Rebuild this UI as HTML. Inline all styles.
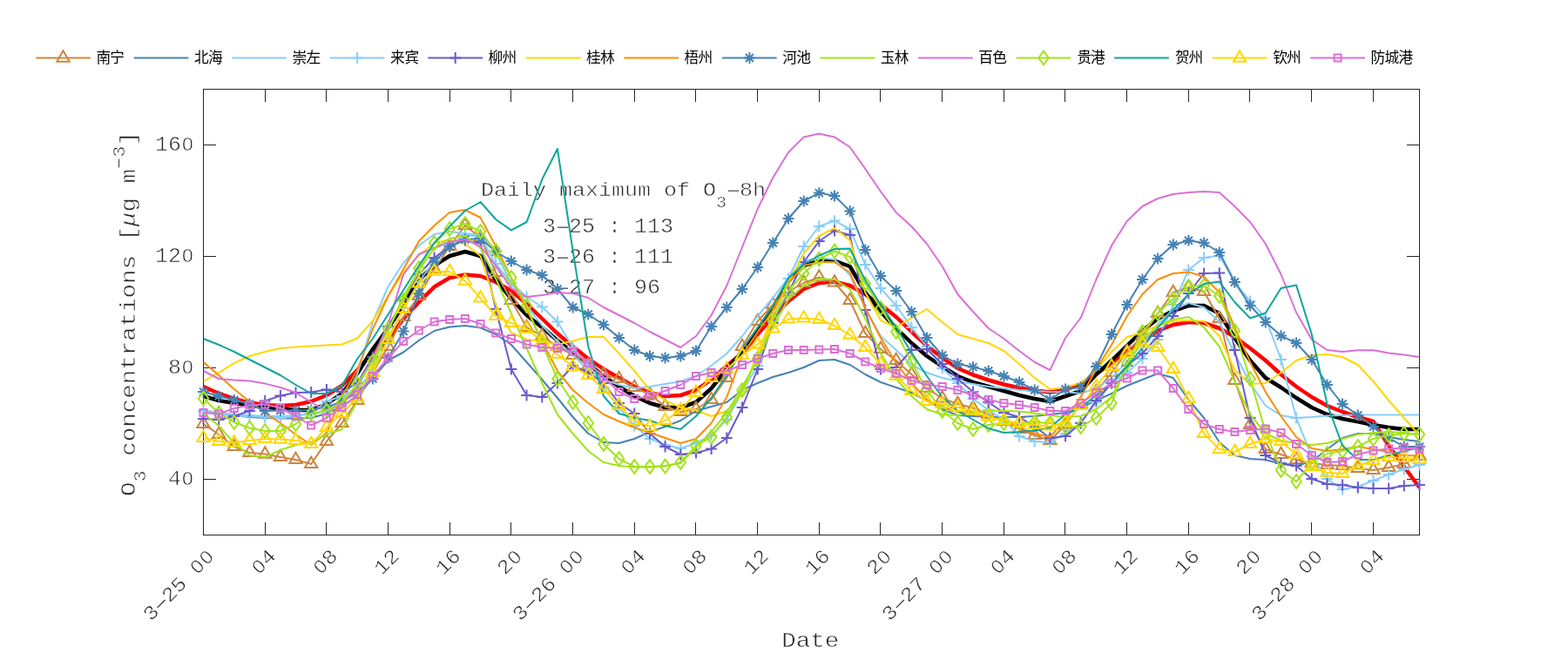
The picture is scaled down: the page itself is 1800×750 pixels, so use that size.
<!DOCTYPE html>
<html lang="zh"><head><meta charset="utf-8"><title>O3 concentrations</title>
<style>html,body{margin:0;padding:0;background:#fff}body{width:1800px;height:750px;overflow:hidden}svg{display:block;will-change:transform}text{font-family:'Liberation Mono', monospace;fill:#262626;stroke:#fff;stroke-width:0.6px}.z{font-family:'Liberation Sans',sans-serif}text.lg{font-family:'Liberation Sans','Noto Sans CJK SC',sans-serif;fill:#000;stroke:none;font-size:16.7px}</style></head><body>
<svg width="1800" height="750" viewBox="0 0 1800 750">
<rect width="1800" height="750" fill="#fff"/>
<defs><clipPath id="plot"><rect x="233.5" y="102.5" width="1396" height="512"/></clipPath></defs>
<g stroke="#262626" stroke-width="1" fill="none" shape-rendering="crispEdges">
<rect x="233.5" y="102.5" width="1396" height="512"/>
<path d="M304.5 614.5v-14.5M304.5 102.5v14.5M374.5 614.5v-14.5M374.5 102.5v14.5M445.5 614.5v-14.5M445.5 102.5v14.5M516.5 614.5v-14.5M516.5 102.5v14.5M586.5 614.5v-14.5M586.5 102.5v14.5M657.5 614.5v-14.5M657.5 102.5v14.5M728.5 614.5v-14.5M728.5 102.5v14.5M798.5 614.5v-14.5M798.5 102.5v14.5M869.5 614.5v-14.5M869.5 102.5v14.5M940.5 614.5v-14.5M940.5 102.5v14.5M1010.5 614.5v-14.5M1010.5 102.5v14.5M1081.5 614.5v-14.5M1081.5 102.5v14.5M1152.5 614.5v-14.5M1152.5 102.5v14.5M1222.5 614.5v-14.5M1222.5 102.5v14.5M1293.5 614.5v-14.5M1293.5 102.5v14.5M1364.5 614.5v-14.5M1364.5 102.5v14.5M1434.5 614.5v-14.5M1434.5 102.5v14.5M1505.5 614.5v-14.5M1505.5 102.5v14.5M1576.5 614.5v-14.5M1576.5 102.5v14.5M233.5 550.5h14.5M1629.5 550.5h-14.5M233.5 422.5h14.5M1629.5 422.5h-14.5M233.5 294.5h14.5M1629.5 294.5h-14.5M233.5 166.5h14.5M1629.5 166.5h-14.5"/>
</g>
<text transform="translate(552,224.5) scale(1,0.890)" font-size="25">Daily maximum of O<tspan font-size="20" dy="14.6">3</tspan><tspan dy="-14.6" x="275" textLength="30" lengthAdjust="spacingAndGlyphs">-</tspan><tspan x="297">8h</tspan></text>
<text transform="translate(623,266.5) scale(1,0.930)" font-size="25"><tspan x="0">3</tspan><tspan x="8" textLength="30" lengthAdjust="spacingAndGlyphs">-</tspan><tspan x="30">2</tspan><tspan x="45">5</tspan> <tspan x="75">:</tspan> <tspan x="105">1</tspan><tspan x="120">1</tspan><tspan x="135">3</tspan></text>
<text transform="translate(623,301.5) scale(1,0.930)" font-size="25"><tspan x="0">3</tspan><tspan x="8" textLength="30" lengthAdjust="spacingAndGlyphs">-</tspan><tspan x="30">2</tspan><tspan x="45">6</tspan> <tspan x="75">:</tspan> <tspan x="105">1</tspan><tspan x="120">1</tspan><tspan x="135">1</tspan></text>
<text transform="translate(623,336.5) scale(1,0.930)" font-size="25"><tspan x="0">3</tspan><tspan x="8" textLength="30" lengthAdjust="spacingAndGlyphs">-</tspan><tspan x="30">2</tspan><tspan x="45">7</tspan> <tspan x="75">:</tspan> <tspan x="105">9</tspan><tspan x="120">6</tspan></text>
<g fill="none" stroke-linejoin="round" stroke-linecap="butt" clip-path="url(#plot)">
<path d="M233.5 444L251.2 452L268.8 458L286.5 462.6L304.2 465L321.9 466L339.5 465L357.2 461L374.9 454L392.5 443L410.2 425L427.9 405L445.6 390L463.2 366L480.9 347L498.6 329.5L516.2 319L533.9 315.5L551.6 317L569.2 324L586.9 334L604.6 349L622.3 366L639.9 383L657.6 398L675.3 412L692.9 424L710.6 434L728.3 444L746 451L763.6 455L781.3 454L799 448L816.6 436L834.3 420L852 406L869.7 384L887.3 364L905 346L922.7 332L940.3 325L958 323.6L975.7 328L993.3 338L1011 350L1028.7 364L1046.4 381L1064 397L1081.7 411L1099.4 423L1117 430.5L1134.7 436.5L1152.4 441.5L1170.1 445.5L1187.7 448.5L1205.4 450.5L1223.1 448L1240.7 441L1258.4 429.5L1276.1 417L1293.8 403.5L1311.4 391L1329.1 380L1346.8 373L1364.4 370L1382.1 371L1399.8 377L1417.4 387L1435.1 400L1452.8 414L1470.5 430L1488.1 444L1505.8 456L1523.5 466L1541.1 473L1558.8 479L1576.5 484L1594.2 512L1611.8 536L1629.5 560" stroke="#FF0000" stroke-width="4.5"/>
<path d="M233.5 455L251.2 460L268.8 463L286.5 465.4L304.2 467.4L321.9 469.4L339.5 471L357.2 471L374.9 464L392.5 452L410.2 429L427.9 401L445.6 377L463.2 350L480.9 321L498.6 305L516.2 294L533.9 289L551.6 294L569.2 321L586.9 343L604.6 362L622.3 376L639.9 391L657.6 405L675.3 418L692.9 432L710.6 444L728.3 455L746 463L763.6 468L781.3 468L799 462L816.6 446L834.3 424L852 404L869.7 379L887.3 353.5L905 323L922.7 305L940.3 299.6L958 299.6L975.7 306L993.3 336L1011 358L1028.7 377L1046.4 394L1064 409L1081.7 421L1099.4 432L1117 439L1134.7 444L1152.4 449L1170.1 454L1187.7 458L1205.4 461L1223.1 455L1240.7 449L1258.4 430L1276.1 414L1293.8 397L1311.4 380L1329.1 366L1346.8 357L1364.4 351L1382.1 351L1399.8 360L1417.4 388L1435.1 414L1452.8 434L1470.5 445L1488.1 457L1505.8 468L1523.5 476L1541.1 481L1558.8 484.4L1576.5 488L1594.2 491L1611.8 493L1629.5 493" stroke="#000000" stroke-width="4.5"/>
</g>
<g fill="none" stroke="#CD853F" stroke-width="2" stroke-linejoin="round">
<path d="M233.5 487L251.2 499L268.8 513L286.5 520L304.2 521.6L321.9 525L339.5 528L357.2 533L374.9 507L392.5 486L410.2 460L427.9 428L445.6 398L463.2 364L480.9 340L498.6 309L516.2 283L533.9 259L551.6 273L569.2 313L586.9 345L604.6 376L622.3 386L639.9 398L657.6 408L675.3 420L692.9 430L710.6 435L728.3 445L746 453L763.6 467L781.3 473L799 470L816.6 459L834.3 434L852 398L869.7 369L887.3 350L905 335L922.7 325L940.3 318.5L958 324.5L975.7 345L993.3 383L1011 401L1028.7 414L1046.4 430L1064 446L1081.7 457.5L1099.4 464L1117 468.5L1134.7 476L1152.4 484L1170.1 493L1187.7 500L1205.4 506L1223.1 488L1240.7 464L1258.4 450L1276.1 428L1293.8 404L1311.4 386L1329.1 360L1346.8 336L1364.4 330L1382.1 335L1399.8 366L1417.4 437L1435.1 488L1452.8 516L1470.5 522L1488.1 528L1505.8 532L1523.5 534L1541.1 535L1558.8 538L1576.5 540L1594.2 537L1611.8 533L1629.5 524" clip-path="url(#plot)"/>
<path stroke-linejoin="miter" d="M233.5 478.7L240.7 491.1L226.3 491.1ZM251.2 490.7L258.4 503.1L244 503.1ZM268.8 504.7L276 517.1L261.6 517.1ZM286.5 511.7L293.7 524.1L279.3 524.1ZM304.2 513.3L311.4 525.8L297 525.8ZM321.9 516.7L329.1 529.1L314.7 529.1ZM339.5 519.7L346.7 532.1L332.3 532.1ZM357.2 524.7L364.4 537.1L350 537.1ZM374.9 498.7L382.1 511.1L367.7 511.1ZM392.5 477.7L399.7 490.1L385.3 490.1ZM410.2 451.7L417.4 464.1L403 464.1ZM427.9 419.7L435.1 432.1L420.7 432.1ZM445.6 389.7L452.8 402.1L438.4 402.1ZM463.2 355.7L470.4 368.1L456 368.1ZM480.9 331.7L488.1 344.1L473.7 344.1ZM498.6 300.7L505.8 313.1L491.4 313.1ZM516.2 274.7L523.4 287.1L509 287.1ZM533.9 250.7L541.1 263.1L526.7 263.1ZM551.6 264.7L558.8 277.1L544.4 277.1ZM569.2 304.7L576.4 317.1L562 317.1ZM586.9 336.7L594.1 349.1L579.7 349.1ZM604.6 367.7L611.8 380.1L597.4 380.1ZM622.3 377.7L629.5 390.1L615.1 390.1ZM639.9 389.7L647.1 402.1L632.7 402.1ZM657.6 399.7L664.8 412.1L650.4 412.1ZM675.3 411.7L682.5 424.1L668.1 424.1ZM692.9 421.7L700.1 434.1L685.7 434.1ZM710.6 426.7L717.8 439.1L703.4 439.1ZM728.3 436.7L735.5 449.1L721.1 449.1ZM746 444.7L753.2 457.1L738.8 457.1ZM763.6 458.7L770.8 471.1L756.4 471.1ZM781.3 464.7L788.5 477.1L774.1 477.1ZM799 461.7L806.2 474.1L791.8 474.1ZM816.6 450.7L823.8 463.1L809.4 463.1ZM834.3 425.7L841.5 438.1L827.1 438.1ZM852 389.7L859.2 402.1L844.8 402.1ZM869.7 360.7L876.9 373.1L862.5 373.1ZM887.3 341.7L894.5 354.1L880.1 354.1ZM905 326.7L912.2 339.1L897.8 339.1ZM922.7 316.7L929.9 329.1L915.5 329.1ZM940.3 310.2L947.5 322.6L933.1 322.6ZM958 316.2L965.2 328.6L950.8 328.6ZM975.7 336.7L982.9 349.1L968.5 349.1ZM993.3 374.7L1000.5 387.1L986.1 387.1ZM1011 392.7L1018.2 405.1L1003.8 405.1ZM1028.7 405.7L1035.9 418.1L1021.5 418.1ZM1046.4 421.7L1053.6 434.1L1039.2 434.1ZM1064 437.7L1071.2 450.1L1056.8 450.1ZM1081.7 449.2L1088.9 461.6L1074.5 461.6ZM1099.4 455.7L1106.6 468.1L1092.2 468.1ZM1117 460.2L1124.2 472.6L1109.8 472.6ZM1134.7 467.7L1141.9 480.1L1127.5 480.1ZM1152.4 475.7L1159.6 488.1L1145.2 488.1ZM1170.1 484.7L1177.3 497.1L1162.9 497.1ZM1187.7 491.7L1194.9 504.1L1180.5 504.1ZM1205.4 497.7L1212.6 510.1L1198.2 510.1ZM1223.1 479.7L1230.3 492.1L1215.9 492.1ZM1240.7 455.7L1247.9 468.1L1233.5 468.1ZM1258.4 441.7L1265.6 454.1L1251.2 454.1ZM1276.1 419.7L1283.3 432.1L1268.9 432.1ZM1293.8 395.7L1301 408.1L1286.6 408.1ZM1311.4 377.7L1318.6 390.1L1304.2 390.1ZM1329.1 351.7L1336.3 364.1L1321.9 364.1ZM1346.8 327.7L1354 340.1L1339.6 340.1ZM1364.4 321.7L1371.6 334.1L1357.2 334.1ZM1382.1 326.7L1389.3 339.1L1374.9 339.1ZM1399.8 357.7L1407 370.1L1392.6 370.1ZM1417.4 428.7L1424.6 441.1L1410.2 441.1ZM1435.1 479.7L1442.3 492.1L1427.9 492.1ZM1452.8 507.7L1460 520.1L1445.6 520.1ZM1470.5 513.7L1477.7 526.1L1463.3 526.1ZM1488.1 519.7L1495.3 532.1L1480.9 532.1ZM1505.8 523.7L1513 536.1L1498.6 536.1ZM1523.5 525.7L1530.7 538.1L1516.3 538.1ZM1541.1 526.7L1548.3 539.1L1533.9 539.1ZM1558.8 529.7L1566 542.1L1551.6 542.1ZM1576.5 531.7L1583.7 544.1L1569.3 544.1ZM1594.2 528.7L1601.4 541.1L1587 541.1ZM1611.8 524.7L1619 537.1L1604.6 537.1ZM1629.5 515.7L1636.7 528.1L1622.3 528.1Z"/>
</g>
<g fill="none" stroke="#4682B4" stroke-width="2" stroke-linejoin="round">
<path d="M233.5 472L251.2 475L268.8 477L286.5 479L304.2 480L321.9 480.5L339.5 480.5L357.2 480L374.9 475L392.5 467L410.2 455L427.9 434L445.6 414L463.2 404.5L480.9 391L498.6 380L516.2 375.5L533.9 374L551.6 376.5L569.2 384L586.9 396L604.6 416L622.3 436L639.9 457L657.6 479L675.3 498L692.9 508L710.6 509L728.3 504L746 496L763.6 490L781.3 483L799 472L816.6 467L834.3 462L852 448L869.7 440L887.3 433L905 428L922.7 422L940.3 414L958 413L975.7 419L993.3 430L1011 439L1028.7 445L1046.4 451L1064 460L1081.7 470L1099.4 477L1117 478L1134.7 479L1152.4 479L1170.1 479L1187.7 478L1205.4 476L1223.1 474L1240.7 468L1258.4 460L1276.1 452L1293.8 443L1311.4 436L1329.1 429L1346.8 434L1364.4 459L1382.1 480L1399.8 508L1417.4 523L1435.1 527L1452.8 528L1470.5 533L1488.1 535L1505.8 530L1523.5 516L1541.1 503L1558.8 498L1576.5 498L1594.2 502L1611.8 505L1629.5 507" clip-path="url(#plot)"/>
</g>
<g fill="none" stroke="#87CEFA" stroke-width="2" stroke-linejoin="round">
<path d="M233.5 471L251.2 474L268.8 476L286.5 477L304.2 478L321.9 478L339.5 477L357.2 476L374.9 472L392.5 462L410.2 430L427.9 370L445.6 329L463.2 302L480.9 282L498.6 269L516.2 266L533.9 268L551.6 270L569.2 290L586.9 326L604.6 351L622.3 374L639.9 392L657.6 408L675.3 425L692.9 436L710.6 442L728.3 446L746 444L763.6 441L781.3 438L799 432L816.6 420L834.3 406L852 386L869.7 363L887.3 342L905 319L922.7 300L940.3 296L958 298L975.7 316L993.3 354L1011 386L1028.7 402L1046.4 419L1064 428L1081.7 434L1099.4 438L1117 441L1134.7 444L1152.4 446L1170.1 448L1187.7 449L1205.4 450L1223.1 450L1240.7 452L1258.4 446L1276.1 434L1293.8 415L1311.4 395L1329.1 372L1346.8 356L1364.4 348L1382.1 353L1399.8 370L1417.4 406L1435.1 440L1452.8 466L1470.5 477L1488.1 480L1505.8 479L1523.5 477.6L1541.1 477L1558.8 476.6L1576.5 476.4L1594.2 476.4L1611.8 476.4L1629.5 476.4" clip-path="url(#plot)"/>
</g>
<g fill="none" stroke="#87CEFA" stroke-width="2" stroke-linejoin="round">
<path d="M233.5 472L251.2 476L268.8 478L286.5 478L304.2 479L321.9 480L339.5 478L357.2 474L374.9 461L392.5 455L410.2 448L427.9 425L445.6 390L463.2 354L480.9 324L498.6 299L516.2 281L533.9 270L551.6 272L569.2 303L586.9 325L604.6 341L622.3 352.5L639.9 369.5L657.6 399L675.3 420L692.9 445L710.6 468L728.3 489L746 504L763.6 511L781.3 515L799 509L816.6 500L834.3 482L852 450L869.7 420L887.3 370L905 320L922.7 283L940.3 260L958 253.6L975.7 263L993.3 304L1011 331L1028.7 351L1046.4 376L1064 398L1081.7 423L1099.4 440L1117 458L1134.7 471L1152.4 482L1170.1 501L1187.7 507L1205.4 508L1223.1 498L1240.7 486L1258.4 462L1276.1 440L1293.8 428L1311.4 412L1329.1 390L1346.8 350L1364.4 310L1382.1 296L1399.8 293.6L1417.4 324L1435.1 346L1452.8 365L1470.5 413L1488.1 480L1505.8 524L1523.5 550L1541.1 562L1558.8 559L1576.5 552L1594.2 545L1611.8 539L1629.5 534" clip-path="url(#plot)"/>
<path stroke-linejoin="miter" d="M227.1 472h12.8M233.5 465.6v12.8M244.8 476h12.8M251.2 469.6v12.8M262.4 478h12.8M268.8 471.6v12.8M280.1 478h12.8M286.5 471.6v12.8M297.8 479h12.8M304.2 472.6v12.8M315.5 480h12.8M321.9 473.6v12.8M333.1 478h12.8M339.5 471.6v12.8M350.8 474h12.8M357.2 467.6v12.8M368.5 461h12.8M374.9 454.6v12.8M386.1 455h12.8M392.5 448.6v12.8M403.8 448h12.8M410.2 441.6v12.8M421.5 425h12.8M427.9 418.6v12.8M439.2 390h12.8M445.6 383.6v12.8M456.8 354h12.8M463.2 347.6v12.8M474.5 324h12.8M480.9 317.6v12.8M492.2 299h12.8M498.6 292.6v12.8M509.8 281h12.8M516.2 274.6v12.8M527.5 270h12.8M533.9 263.6v12.8M545.2 272h12.8M551.6 265.6v12.8M562.8 303h12.8M569.2 296.6v12.8M580.5 325h12.8M586.9 318.6v12.8M598.2 341h12.8M604.6 334.6v12.8M615.9 352.5h12.8M622.3 346.1v12.8M633.5 369.5h12.8M639.9 363.1v12.8M651.2 399h12.8M657.6 392.6v12.8M668.9 420h12.8M675.3 413.6v12.8M686.5 445h12.8M692.9 438.6v12.8M704.2 468h12.8M710.6 461.6v12.8M721.9 489h12.8M728.3 482.6v12.8M739.6 504h12.8M746 497.6v12.8M757.2 511h12.8M763.6 504.6v12.8M774.9 515h12.8M781.3 508.6v12.8M792.6 509h12.8M799 502.6v12.8M810.2 500h12.8M816.6 493.6v12.8M827.9 482h12.8M834.3 475.6v12.8M845.6 450h12.8M852 443.6v12.8M863.3 420h12.8M869.7 413.6v12.8M880.9 370h12.8M887.3 363.6v12.8M898.6 320h12.8M905 313.6v12.8M916.3 283h12.8M922.7 276.6v12.8M933.9 260h12.8M940.3 253.6v12.8M951.6 253.6h12.8M958 247.2v12.8M969.3 263h12.8M975.7 256.6v12.8M986.9 304h12.8M993.3 297.6v12.8M1004.6 331h12.8M1011 324.6v12.8M1022.3 351h12.8M1028.7 344.6v12.8M1040 376h12.8M1046.4 369.6v12.8M1057.6 398h12.8M1064 391.6v12.8M1075.3 423h12.8M1081.7 416.6v12.8M1093 440h12.8M1099.4 433.6v12.8M1110.6 458h12.8M1117 451.6v12.8M1128.3 471h12.8M1134.7 464.6v12.8M1146 482h12.8M1152.4 475.6v12.8M1163.7 501h12.8M1170.1 494.6v12.8M1181.3 507h12.8M1187.7 500.6v12.8M1199 508h12.8M1205.4 501.6v12.8M1216.7 498h12.8M1223.1 491.6v12.8M1234.3 486h12.8M1240.7 479.6v12.8M1252 462h12.8M1258.4 455.6v12.8M1269.7 440h12.8M1276.1 433.6v12.8M1287.4 428h12.8M1293.8 421.6v12.8M1305 412h12.8M1311.4 405.6v12.8M1322.7 390h12.8M1329.1 383.6v12.8M1340.4 350h12.8M1346.8 343.6v12.8M1358 310h12.8M1364.4 303.6v12.8M1375.7 296h12.8M1382.1 289.6v12.8M1393.4 293.6h12.8M1399.8 287.2v12.8M1411 324h12.8M1417.4 317.6v12.8M1428.7 346h12.8M1435.1 339.6v12.8M1446.4 365h12.8M1452.8 358.6v12.8M1464.1 413h12.8M1470.5 406.6v12.8M1481.7 480h12.8M1488.1 473.6v12.8M1499.4 524h12.8M1505.8 517.6v12.8M1517.1 550h12.8M1523.5 543.6v12.8M1534.7 562h12.8M1541.1 555.6v12.8M1552.4 559h12.8M1558.8 552.6v12.8M1570.1 552h12.8M1576.5 545.6v12.8M1587.8 545h12.8M1594.2 538.6v12.8M1605.4 539h12.8M1611.8 532.6v12.8M1623.1 534h12.8M1629.5 527.6v12.8"/>
</g>
<g fill="none" stroke="#6A5ACD" stroke-width="2" stroke-linejoin="round">
<path d="M233.5 481L251.2 482L268.8 478L286.5 472L304.2 460.5L321.9 454.5L339.5 451L357.2 450.5L374.9 447.5L392.5 450L410.2 440L427.9 410L445.6 375L463.2 345L480.9 315L498.6 296L516.2 283L533.9 276L551.6 279L569.2 355L586.9 424L604.6 454L622.3 456L639.9 440L657.6 420L675.3 428L692.9 440L710.6 463L728.3 475L746 498L763.6 513L781.3 522L799 520L816.6 515.6L834.3 503L852 468L869.7 424L887.3 371L905 336L922.7 301L940.3 277L958 265L975.7 270L993.3 356L1011 424L1028.7 422L1046.4 402L1064 401L1081.7 418L1099.4 435L1117 450L1134.7 462L1152.4 474L1170.1 479L1187.7 490L1205.4 503L1223.1 501L1240.7 486L1258.4 460L1276.1 440L1293.8 420L1311.4 406L1329.1 386L1346.8 363L1364.4 337L1382.1 314L1399.8 313.6L1417.4 402L1435.1 480L1452.8 523L1470.5 532L1488.1 535L1505.8 550L1523.5 556L1541.1 557L1558.8 560L1576.5 561L1594.2 561L1611.8 558L1629.5 557" clip-path="url(#plot)"/>
<path stroke-linejoin="miter" d="M227.1 481h12.8M233.5 474.6v12.8M244.8 482h12.8M251.2 475.6v12.8M262.4 478h12.8M268.8 471.6v12.8M280.1 472h12.8M286.5 465.6v12.8M297.8 460.5h12.8M304.2 454.1v12.8M315.5 454.5h12.8M321.9 448.1v12.8M333.1 451h12.8M339.5 444.6v12.8M350.8 450.5h12.8M357.2 444.1v12.8M368.5 447.5h12.8M374.9 441.1v12.8M386.1 450h12.8M392.5 443.6v12.8M403.8 440h12.8M410.2 433.6v12.8M421.5 410h12.8M427.9 403.6v12.8M439.2 375h12.8M445.6 368.6v12.8M456.8 345h12.8M463.2 338.6v12.8M474.5 315h12.8M480.9 308.6v12.8M492.2 296h12.8M498.6 289.6v12.8M509.8 283h12.8M516.2 276.6v12.8M527.5 276h12.8M533.9 269.6v12.8M545.2 279h12.8M551.6 272.6v12.8M562.8 355h12.8M569.2 348.6v12.8M580.5 424h12.8M586.9 417.6v12.8M598.2 454h12.8M604.6 447.6v12.8M615.9 456h12.8M622.3 449.6v12.8M633.5 440h12.8M639.9 433.6v12.8M651.2 420h12.8M657.6 413.6v12.8M668.9 428h12.8M675.3 421.6v12.8M686.5 440h12.8M692.9 433.6v12.8M704.2 463h12.8M710.6 456.6v12.8M721.9 475h12.8M728.3 468.6v12.8M739.6 498h12.8M746 491.6v12.8M757.2 513h12.8M763.6 506.6v12.8M774.9 522h12.8M781.3 515.6v12.8M792.6 520h12.8M799 513.6v12.8M810.2 515.6h12.8M816.6 509.2v12.8M827.9 503h12.8M834.3 496.6v12.8M845.6 468h12.8M852 461.6v12.8M863.3 424h12.8M869.7 417.6v12.8M880.9 371h12.8M887.3 364.6v12.8M898.6 336h12.8M905 329.6v12.8M916.3 301h12.8M922.7 294.6v12.8M933.9 277h12.8M940.3 270.6v12.8M951.6 265h12.8M958 258.6v12.8M969.3 270h12.8M975.7 263.6v12.8M986.9 356h12.8M993.3 349.6v12.8M1004.6 424h12.8M1011 417.6v12.8M1022.3 422h12.8M1028.7 415.6v12.8M1040 402h12.8M1046.4 395.6v12.8M1057.6 401h12.8M1064 394.6v12.8M1075.3 418h12.8M1081.7 411.6v12.8M1093 435h12.8M1099.4 428.6v12.8M1110.6 450h12.8M1117 443.6v12.8M1128.3 462h12.8M1134.7 455.6v12.8M1146 474h12.8M1152.4 467.6v12.8M1163.7 479h12.8M1170.1 472.6v12.8M1181.3 490h12.8M1187.7 483.6v12.8M1199 503h12.8M1205.4 496.6v12.8M1216.7 501h12.8M1223.1 494.6v12.8M1234.3 486h12.8M1240.7 479.6v12.8M1252 460h12.8M1258.4 453.6v12.8M1269.7 440h12.8M1276.1 433.6v12.8M1287.4 420h12.8M1293.8 413.6v12.8M1305 406h12.8M1311.4 399.6v12.8M1322.7 386h12.8M1329.1 379.6v12.8M1340.4 363h12.8M1346.8 356.6v12.8M1358 337h12.8M1364.4 330.6v12.8M1375.7 314h12.8M1382.1 307.6v12.8M1393.4 313.6h12.8M1399.8 307.2v12.8M1411 402h12.8M1417.4 395.6v12.8M1428.7 480h12.8M1435.1 473.6v12.8M1446.4 523h12.8M1452.8 516.6v12.8M1464.1 532h12.8M1470.5 525.6v12.8M1481.7 535h12.8M1488.1 528.6v12.8M1499.4 550h12.8M1505.8 543.6v12.8M1517.1 556h12.8M1523.5 549.6v12.8M1534.7 557h12.8M1541.1 550.6v12.8M1552.4 560h12.8M1558.8 553.6v12.8M1570.1 561h12.8M1576.5 554.6v12.8M1587.8 561h12.8M1594.2 554.6v12.8M1605.4 558h12.8M1611.8 551.6v12.8M1623.1 557h12.8M1629.5 550.6v12.8"/>
</g>
<g fill="none" stroke="#FFD700" stroke-width="2" stroke-linejoin="round">
<path d="M233.5 438L251.2 428L268.8 417L286.5 409L304.2 404L321.9 400L339.5 398.6L357.2 397.4L374.9 396.6L392.5 395.5L410.2 388.5L427.9 368.5L445.6 340L463.2 313L480.9 293L498.6 279L516.2 275L533.9 280L551.6 294L569.2 350L586.9 382L604.6 390L622.3 392L639.9 396L657.6 391.5L675.3 387L692.9 387L710.6 406L728.3 426L746 448L763.6 460L781.3 468L799 471L816.6 478L834.3 472L852 452L869.7 405L887.3 362L905 325L922.7 291L940.3 271L958 262L975.7 276L993.3 336L1011 368L1028.7 376L1046.4 365L1064 355L1081.7 370L1099.4 384L1117 389L1134.7 394L1152.4 403L1170.1 418L1187.7 434L1205.4 447L1223.1 445L1240.7 440L1258.4 425L1276.1 404L1293.8 387L1311.4 382L1329.1 374L1346.8 369L1364.4 368L1382.1 369L1399.8 386L1417.4 425L1435.1 441L1452.8 440L1470.5 428L1488.1 414L1505.8 408L1523.5 407L1541.1 410L1558.8 419L1576.5 438L1594.2 460L1611.8 480L1629.5 500" clip-path="url(#plot)"/>
</g>
<g fill="none" stroke="#FF8C00" stroke-width="2" stroke-linejoin="round">
<path d="M233.5 416L251.2 431L268.8 447L286.5 461L304.2 474L321.9 486L339.5 499L357.2 511L374.9 497L392.5 455L410.2 425L427.9 378L445.6 340L463.2 309L480.9 277L498.6 259L516.2 244L533.9 241L551.6 250L569.2 283L586.9 319L604.6 355L622.3 392L639.9 426L657.6 448L675.3 463L692.9 476L710.6 484L728.3 491L746 497L763.6 503L781.3 509L799 504L816.6 486L834.3 456L852 408L869.7 381.5L887.3 356L905 325L922.7 305L940.3 301L958 301L975.7 313L993.3 354L1011 388L1028.7 417L1046.4 440L1064 459L1081.7 468L1099.4 473L1117 476L1134.7 479L1152.4 483L1170.1 491L1187.7 498L1205.4 502L1223.1 482L1240.7 456L1258.4 424L1276.1 396L1293.8 363L1311.4 338L1329.1 321L1346.8 314L1364.4 312.4L1382.1 318L1399.8 336L1417.4 376L1435.1 416L1452.8 450L1470.5 478L1488.1 502L1505.8 515L1523.5 518L1541.1 516L1558.8 513L1576.5 516L1594.2 519L1611.8 523L1629.5 523.6" clip-path="url(#plot)"/>
</g>
<g fill="none" stroke="#4682B4" stroke-width="2" stroke-linejoin="round">
<path d="M233.5 450L251.2 455L268.8 459.5L286.5 464L304.2 472L321.9 471.5L339.5 471.5L357.2 471L374.9 467L392.5 462L410.2 450L427.9 435L445.6 411L463.2 380.5L480.9 337L498.6 301L516.2 283L533.9 275L551.6 274L569.2 289L586.9 300L604.6 310L622.3 316L639.9 332L657.6 353L675.3 361L692.9 373L710.6 388L728.3 402L746 409L763.6 411L781.3 409L799 403L816.6 375L834.3 353L852 332L869.7 307L887.3 279L905 251L922.7 231L940.3 221.6L958 225L975.7 242.4L993.3 287L1011 317L1028.7 334L1046.4 358L1064 388L1081.7 408L1099.4 418L1117 421.6L1134.7 426L1152.4 432L1170.1 439L1187.7 448L1205.4 459L1223.1 447L1240.7 445L1258.4 421L1276.1 384L1293.8 350L1311.4 321L1329.1 297L1346.8 281L1364.4 276.2L1382.1 279L1399.8 290L1417.4 324L1435.1 351L1452.8 370L1470.5 385.6L1488.1 394L1505.8 413L1523.5 442L1541.1 464L1558.8 477L1576.5 490L1594.2 503L1611.8 513L1629.5 513" clip-path="url(#plot)"/>
<path stroke-linejoin="miter" d="M227.1 450h12.8M233.5 443.6v12.8M229 445.5l9 9M229 454.5l9 -9M244.8 455h12.8M251.2 448.6v12.8M246.7 450.5l9 9M246.7 459.5l9 -9M262.4 459.5h12.8M268.8 453.1v12.8M264.3 455l9 9M264.3 464l9 -9M280.1 464h12.8M286.5 457.6v12.8M282 459.5l9 9M282 468.5l9 -9M297.8 472h12.8M304.2 465.6v12.8M299.7 467.5l9 9M299.7 476.5l9 -9M315.5 471.5h12.8M321.9 465.1v12.8M317.4 467l9 9M317.4 476l9 -9M333.1 471.5h12.8M339.5 465.1v12.8M335 467l9 9M335 476l9 -9M350.8 471h12.8M357.2 464.6v12.8M352.7 466.5l9 9M352.7 475.5l9 -9M368.5 467h12.8M374.9 460.6v12.8M370.4 462.5l9 9M370.4 471.5l9 -9M386.1 462h12.8M392.5 455.6v12.8M388 457.5l9 9M388 466.5l9 -9M403.8 450h12.8M410.2 443.6v12.8M405.7 445.5l9 9M405.7 454.5l9 -9M421.5 435h12.8M427.9 428.6v12.8M423.4 430.5l9 9M423.4 439.5l9 -9M439.2 411h12.8M445.6 404.6v12.8M441.1 406.5l9 9M441.1 415.5l9 -9M456.8 380.5h12.8M463.2 374.1v12.8M458.7 376l9 9M458.7 385l9 -9M474.5 337h12.8M480.9 330.6v12.8M476.4 332.5l9 9M476.4 341.5l9 -9M492.2 301h12.8M498.6 294.6v12.8M494.1 296.5l9 9M494.1 305.5l9 -9M509.8 283h12.8M516.2 276.6v12.8M511.7 278.5l9 9M511.7 287.5l9 -9M527.5 275h12.8M533.9 268.6v12.8M529.4 270.5l9 9M529.4 279.5l9 -9M545.2 274h12.8M551.6 267.6v12.8M547.1 269.5l9 9M547.1 278.5l9 -9M562.8 289h12.8M569.2 282.6v12.8M564.7 284.5l9 9M564.7 293.5l9 -9M580.5 300h12.8M586.9 293.6v12.8M582.4 295.5l9 9M582.4 304.5l9 -9M598.2 310h12.8M604.6 303.6v12.8M600.1 305.5l9 9M600.1 314.5l9 -9M615.9 316h12.8M622.3 309.6v12.8M617.8 311.5l9 9M617.8 320.5l9 -9M633.5 332h12.8M639.9 325.6v12.8M635.4 327.5l9 9M635.4 336.5l9 -9M651.2 353h12.8M657.6 346.6v12.8M653.1 348.5l9 9M653.1 357.5l9 -9M668.9 361h12.8M675.3 354.6v12.8M670.8 356.5l9 9M670.8 365.5l9 -9M686.5 373h12.8M692.9 366.6v12.8M688.4 368.5l9 9M688.4 377.5l9 -9M704.2 388h12.8M710.6 381.6v12.8M706.1 383.5l9 9M706.1 392.5l9 -9M721.9 402h12.8M728.3 395.6v12.8M723.8 397.5l9 9M723.8 406.5l9 -9M739.6 409h12.8M746 402.6v12.8M741.5 404.5l9 9M741.5 413.5l9 -9M757.2 411h12.8M763.6 404.6v12.8M759.1 406.5l9 9M759.1 415.5l9 -9M774.9 409h12.8M781.3 402.6v12.8M776.8 404.5l9 9M776.8 413.5l9 -9M792.6 403h12.8M799 396.6v12.8M794.5 398.5l9 9M794.5 407.5l9 -9M810.2 375h12.8M816.6 368.6v12.8M812.1 370.5l9 9M812.1 379.5l9 -9M827.9 353h12.8M834.3 346.6v12.8M829.8 348.5l9 9M829.8 357.5l9 -9M845.6 332h12.8M852 325.6v12.8M847.5 327.5l9 9M847.5 336.5l9 -9M863.3 307h12.8M869.7 300.6v12.8M865.2 302.5l9 9M865.2 311.5l9 -9M880.9 279h12.8M887.3 272.6v12.8M882.8 274.5l9 9M882.8 283.5l9 -9M898.6 251h12.8M905 244.6v12.8M900.5 246.5l9 9M900.5 255.5l9 -9M916.3 231h12.8M922.7 224.6v12.8M918.2 226.5l9 9M918.2 235.5l9 -9M933.9 221.6h12.8M940.3 215.2v12.8M935.8 217.1l9 9M935.8 226.1l9 -9M951.6 225h12.8M958 218.6v12.8M953.5 220.5l9 9M953.5 229.5l9 -9M969.3 242.4h12.8M975.7 236v12.8M971.2 237.9l9 9M971.2 246.9l9 -9M986.9 287h12.8M993.3 280.6v12.8M988.8 282.5l9 9M988.8 291.5l9 -9M1004.6 317h12.8M1011 310.6v12.8M1006.5 312.5l9 9M1006.5 321.5l9 -9M1022.3 334h12.8M1028.7 327.6v12.8M1024.2 329.5l9 9M1024.2 338.5l9 -9M1040 358h12.8M1046.4 351.6v12.8M1041.9 353.5l9 9M1041.9 362.5l9 -9M1057.6 388h12.8M1064 381.6v12.8M1059.5 383.5l9 9M1059.5 392.5l9 -9M1075.3 408h12.8M1081.7 401.6v12.8M1077.2 403.5l9 9M1077.2 412.5l9 -9M1093 418h12.8M1099.4 411.6v12.8M1094.9 413.5l9 9M1094.9 422.5l9 -9M1110.6 421.6h12.8M1117 415.2v12.8M1112.5 417.1l9 9M1112.5 426.1l9 -9M1128.3 426h12.8M1134.7 419.6v12.8M1130.2 421.5l9 9M1130.2 430.5l9 -9M1146 432h12.8M1152.4 425.6v12.8M1147.9 427.5l9 9M1147.9 436.5l9 -9M1163.7 439h12.8M1170.1 432.6v12.8M1165.6 434.5l9 9M1165.6 443.5l9 -9M1181.3 448h12.8M1187.7 441.6v12.8M1183.2 443.5l9 9M1183.2 452.5l9 -9M1199 459h12.8M1205.4 452.6v12.8M1200.9 454.5l9 9M1200.9 463.5l9 -9M1216.7 447h12.8M1223.1 440.6v12.8M1218.6 442.5l9 9M1218.6 451.5l9 -9M1234.3 445h12.8M1240.7 438.6v12.8M1236.2 440.5l9 9M1236.2 449.5l9 -9M1252 421h12.8M1258.4 414.6v12.8M1253.9 416.5l9 9M1253.9 425.5l9 -9M1269.7 384h12.8M1276.1 377.6v12.8M1271.6 379.5l9 9M1271.6 388.5l9 -9M1287.4 350h12.8M1293.8 343.6v12.8M1289.3 345.5l9 9M1289.3 354.5l9 -9M1305 321h12.8M1311.4 314.6v12.8M1306.9 316.5l9 9M1306.9 325.5l9 -9M1322.7 297h12.8M1329.1 290.6v12.8M1324.6 292.5l9 9M1324.6 301.5l9 -9M1340.4 281h12.8M1346.8 274.6v12.8M1342.3 276.5l9 9M1342.3 285.5l9 -9M1358 276.2h12.8M1364.4 269.8v12.8M1359.9 271.7l9 9M1359.9 280.7l9 -9M1375.7 279h12.8M1382.1 272.6v12.8M1377.6 274.5l9 9M1377.6 283.5l9 -9M1393.4 290h12.8M1399.8 283.6v12.8M1395.3 285.5l9 9M1395.3 294.5l9 -9M1411 324h12.8M1417.4 317.6v12.8M1412.9 319.5l9 9M1412.9 328.5l9 -9M1428.7 351h12.8M1435.1 344.6v12.8M1430.6 346.5l9 9M1430.6 355.5l9 -9M1446.4 370h12.8M1452.8 363.6v12.8M1448.3 365.5l9 9M1448.3 374.5l9 -9M1464.1 385.6h12.8M1470.5 379.2v12.8M1466 381.1l9 9M1466 390.1l9 -9M1481.7 394h12.8M1488.1 387.6v12.8M1483.6 389.5l9 9M1483.6 398.5l9 -9M1499.4 413h12.8M1505.8 406.6v12.8M1501.3 408.5l9 9M1501.3 417.5l9 -9M1517.1 442h12.8M1523.5 435.6v12.8M1519 437.5l9 9M1519 446.5l9 -9M1534.7 464h12.8M1541.1 457.6v12.8M1536.6 459.5l9 9M1536.6 468.5l9 -9M1552.4 477h12.8M1558.8 470.6v12.8M1554.3 472.5l9 9M1554.3 481.5l9 -9M1570.1 490h12.8M1576.5 483.6v12.8M1572 485.5l9 9M1572 494.5l9 -9M1587.8 503h12.8M1594.2 496.6v12.8M1589.7 498.5l9 9M1589.7 507.5l9 -9M1605.4 513h12.8M1611.8 506.6v12.8M1607.3 508.5l9 9M1607.3 517.5l9 -9M1623.1 513h12.8M1629.5 506.6v12.8M1625 508.5l9 9M1625 517.5l9 -9"/>
</g>
<g fill="none" stroke="#A2E31A" stroke-width="2" stroke-linejoin="round">
<path d="M233.5 475L251.2 489L268.8 509L286.5 523L304.2 525L321.9 517L339.5 511L357.2 508L374.9 499L392.5 493L410.2 461L427.9 420L445.6 380L463.2 340L480.9 310L498.6 285L516.2 274L533.9 271L551.6 285L569.2 320L586.9 360L604.6 400L622.3 440L639.9 476L657.6 498L675.3 518L692.9 531L710.6 535L728.3 536.4L746 536.4L763.6 535L781.3 532L799 514L816.6 496L834.3 474L852 444L869.7 414L887.3 375L905 344L922.7 328L940.3 320L958 321L975.7 332L993.3 366L1011 406L1028.7 435L1046.4 455L1064 470L1081.7 476L1099.4 477L1117 474L1134.7 471.5L1152.4 472L1170.1 472.5L1187.7 474.5L1205.4 477L1223.1 479L1240.7 478L1258.4 470L1276.1 456L1293.8 420L1311.4 390L1329.1 374L1346.8 367L1364.4 364L1382.1 376L1399.8 398L1417.4 438L1435.1 476L1452.8 498L1470.5 506L1488.1 509L1505.8 511L1523.5 509L1541.1 504L1558.8 499L1576.5 497L1594.2 496L1611.8 497L1629.5 499" clip-path="url(#plot)"/>
</g>
<g fill="none" stroke="#DA70D6" stroke-width="2" stroke-linejoin="round">
<path d="M233.5 426L251.2 435L268.8 436.4L286.5 437.4L304.2 440.6L321.9 445L339.5 451L357.2 462L374.9 472L392.5 464L410.2 445L427.9 412L445.6 372L463.2 315L480.9 292L498.6 285L516.2 278L533.9 275L551.6 283L569.2 305L586.9 331L604.6 341L622.3 339L639.9 336L657.6 337L675.3 342L692.9 353L710.6 362L728.3 371L746 381L763.6 390L781.3 399L799 386L816.6 362L834.3 328L852 284L869.7 240L887.3 204L905 175L922.7 157.4L940.3 153.6L958 157.4L975.7 169L993.3 194L1011 220L1028.7 244L1046.4 260L1064 280L1081.7 306L1099.4 338L1117 358L1134.7 377L1152.4 389L1170.1 403L1187.7 416L1205.4 425L1223.1 388L1240.7 365L1258.4 321L1276.1 282L1293.8 254L1311.4 237L1329.1 228L1346.8 223L1364.4 221L1382.1 220L1399.8 221L1417.4 237L1435.1 255L1452.8 280L1470.5 315L1488.1 359L1505.8 390L1523.5 402L1541.1 404L1558.8 402.3L1576.5 402.3L1594.2 405.5L1611.8 407.5L1629.5 410" clip-path="url(#plot)"/>
</g>
<g fill="none" stroke="#A2E31A" stroke-width="2" stroke-linejoin="round">
<path d="M233.5 457.5L251.2 474.5L268.8 485L286.5 491.5L304.2 495L321.9 495L339.5 487L357.2 475L374.9 471.5L392.5 462L410.2 441L427.9 415L445.6 378L463.2 345L480.9 308L498.6 279L516.2 263L533.9 257L551.6 266L569.2 288L586.9 319L604.6 351L622.3 395L639.9 435L657.6 462L675.3 486L692.9 510L710.6 527L728.3 536L746 536L763.6 535.6L781.3 531L799 512L816.6 502L834.3 479L852 448L869.7 412L887.3 367L905 334L922.7 314L940.3 297.5L958 288.5L975.7 295L993.3 326L1011 354L1028.7 381L1046.4 416L1064 448L1081.7 472L1099.4 486L1117 493L1134.7 488L1152.4 486L1170.1 486L1187.7 485L1205.4 486L1223.1 490L1240.7 490L1258.4 480L1276.1 463L1293.8 417L1311.4 381.5L1329.1 360L1346.8 343L1364.4 329L1382.1 328L1399.8 340L1417.4 380L1435.1 435L1452.8 496L1470.5 540L1488.1 553L1505.8 532L1523.5 521L1541.1 518L1558.8 513L1576.5 504L1594.2 500L1611.8 498L1629.5 499" clip-path="url(#plot)"/>
<path stroke-linejoin="miter" d="M233.5 449.7L239.2 457.5L233.5 465.3L227.8 457.5ZM251.2 466.7L256.8 474.5L251.2 482.3L245.5 474.5ZM268.8 477.2L274.5 485L268.8 492.8L263.2 485ZM286.5 483.7L292.2 491.5L286.5 499.3L280.9 491.5ZM304.2 487.2L309.8 495L304.2 502.8L298.5 495ZM321.9 487.2L327.5 495L321.9 502.8L316.2 495ZM339.5 479.2L345.2 487L339.5 494.8L333.9 487ZM357.2 467.2L362.8 475L357.2 482.8L351.5 475ZM374.9 463.7L380.5 471.5L374.9 479.3L369.2 471.5ZM392.5 454.2L398.2 462L392.5 469.8L386.9 462ZM410.2 433.2L415.9 441L410.2 448.8L404.6 441ZM427.9 407.2L433.5 415L427.9 422.8L422.2 415ZM445.6 370.2L451.2 378L445.6 385.8L439.9 378ZM463.2 337.2L468.9 345L463.2 352.8L457.6 345ZM480.9 300.2L486.5 308L480.9 315.8L475.2 308ZM498.6 271.2L504.2 279L498.6 286.8L492.9 279ZM516.2 255.2L521.9 263L516.2 270.8L510.6 263ZM533.9 249.2L539.6 257L533.9 264.8L528.3 257ZM551.6 258.2L557.2 266L551.6 273.8L545.9 266ZM569.2 280.2L574.9 288L569.2 295.8L563.6 288ZM586.9 311.2L592.6 319L586.9 326.8L581.3 319ZM604.6 343.2L610.2 351L604.6 358.8L598.9 351ZM622.3 387.2L627.9 395L622.3 402.8L616.6 395ZM639.9 427.2L645.6 435L639.9 442.8L634.3 435ZM657.6 454.2L663.3 462L657.6 469.8L652 462ZM675.3 478.2L680.9 486L675.3 493.8L669.6 486ZM692.9 502.2L698.6 510L692.9 517.8L687.3 510ZM710.6 519.2L716.3 527L710.6 534.8L705 527ZM728.3 528.2L733.9 536L728.3 543.8L722.6 536ZM746 528.2L751.6 536L746 543.8L740.3 536ZM763.6 527.8L769.3 535.6L763.6 543.4L758 535.6ZM781.3 523.2L786.9 531L781.3 538.8L775.6 531ZM799 504.2L804.6 512L799 519.8L793.3 512ZM816.6 494.2L822.3 502L816.6 509.8L811 502ZM834.3 471.2L840 479L834.3 486.8L828.7 479ZM852 440.2L857.6 448L852 455.8L846.3 448ZM869.7 404.2L875.3 412L869.7 419.8L864 412ZM887.3 359.2L893 367L887.3 374.8L881.7 367ZM905 326.2L910.6 334L905 341.8L899.3 334ZM922.7 306.2L928.3 314L922.7 321.8L917 314ZM940.3 289.7L946 297.5L940.3 305.3L934.7 297.5ZM958 280.7L963.7 288.5L958 296.3L952.4 288.5ZM975.7 287.2L981.3 295L975.7 302.8L970 295ZM993.3 318.2L999 326L993.3 333.8L987.7 326ZM1011 346.2L1016.7 354L1011 361.8L1005.4 354ZM1028.7 373.2L1034.3 381L1028.7 388.8L1023 381ZM1046.4 408.2L1052 416L1046.4 423.8L1040.7 416ZM1064 440.2L1069.7 448L1064 455.8L1058.4 448ZM1081.7 464.2L1087.4 472L1081.7 479.8L1076.1 472ZM1099.4 478.2L1105 486L1099.4 493.8L1093.7 486ZM1117 485.2L1122.7 493L1117 500.8L1111.4 493ZM1134.7 480.2L1140.4 488L1134.7 495.8L1129.1 488ZM1152.4 478.2L1158 486L1152.4 493.8L1146.7 486ZM1170.1 478.2L1175.7 486L1170.1 493.8L1164.4 486ZM1187.7 477.2L1193.4 485L1187.7 492.8L1182.1 485ZM1205.4 478.2L1211 486L1205.4 493.8L1199.7 486ZM1223.1 482.2L1228.7 490L1223.1 497.8L1217.4 490ZM1240.7 482.2L1246.4 490L1240.7 497.8L1235.1 490ZM1258.4 472.2L1264.1 480L1258.4 487.8L1252.8 480ZM1276.1 455.2L1281.7 463L1276.1 470.8L1270.4 463ZM1293.8 409.2L1299.4 417L1293.8 424.8L1288.1 417ZM1311.4 373.7L1317.1 381.5L1311.4 389.3L1305.8 381.5ZM1329.1 352.2L1334.7 360L1329.1 367.8L1323.4 360ZM1346.8 335.2L1352.4 343L1346.8 350.8L1341.1 343ZM1364.4 321.2L1370.1 329L1364.4 336.8L1358.8 329ZM1382.1 320.2L1387.8 328L1382.1 335.8L1376.5 328ZM1399.8 332.2L1405.4 340L1399.8 347.8L1394.1 340ZM1417.4 372.2L1423.1 380L1417.4 387.8L1411.8 380ZM1435.1 427.2L1440.8 435L1435.1 442.8L1429.5 435ZM1452.8 488.2L1458.4 496L1452.8 503.8L1447.1 496ZM1470.5 532.2L1476.1 540L1470.5 547.8L1464.8 540ZM1488.1 545.2L1493.8 553L1488.1 560.8L1482.5 553ZM1505.8 524.2L1511.5 532L1505.8 539.8L1500.2 532ZM1523.5 513.2L1529.1 521L1523.5 528.8L1517.8 521ZM1541.1 510.2L1546.8 518L1541.1 525.8L1535.5 518ZM1558.8 505.2L1564.5 513L1558.8 520.8L1553.2 513ZM1576.5 496.2L1582.1 504L1576.5 511.8L1570.8 504ZM1594.2 492.2L1599.8 500L1594.2 507.8L1588.5 500ZM1611.8 490.2L1617.5 498L1611.8 505.8L1606.2 498ZM1629.5 491.2L1635.1 499L1629.5 506.8L1623.8 499Z"/>
</g>
<g fill="none" stroke="#0CA69A" stroke-width="2" stroke-linejoin="round">
<path d="M233.5 389L251.2 396L268.8 404L286.5 413L304.2 422L321.9 431L339.5 442L357.2 452L374.9 452L392.5 443L410.2 412L427.9 389L445.6 361L463.2 333L480.9 305L498.6 279L516.2 260L533.9 242L551.6 232L569.2 252L586.9 264.4L604.6 255L622.3 206L639.9 171L657.6 288L675.3 398L692.9 455L710.6 475L728.3 480L746 483L763.6 489L781.3 493L799 478L816.6 457L834.3 431L852 401L869.7 376.5L887.3 351.5L905 319.5L922.7 303.5L940.3 293.5L958 286L975.7 285.6L993.3 322L1011 350L1028.7 376L1046.4 405L1064 432L1081.7 456L1099.4 472L1117 482L1134.7 492L1152.4 497L1170.1 496L1187.7 494.5L1205.4 491L1223.1 476L1240.7 468L1258.4 454L1276.1 440L1293.8 421L1311.4 399.7L1329.1 376.5L1346.8 356L1364.4 338L1382.1 326L1399.8 323.6L1417.4 347L1435.1 365.5L1452.8 359.5L1470.5 331L1488.1 327.6L1505.8 384L1523.5 464L1541.1 512L1558.8 528L1576.5 528L1594.2 523L1611.8 518L1629.5 514" clip-path="url(#plot)"/>
</g>
<g fill="none" stroke="#FFD700" stroke-width="2" stroke-linejoin="round">
<path d="M233.5 503L251.2 507L268.8 508.6L286.5 506L304.2 504L321.9 504.6L339.5 506L357.2 510L374.9 491L392.5 475L410.2 457L427.9 428L445.6 390L463.2 354.7L480.9 325.5L498.6 311.7L516.2 312L533.9 322.7L551.6 342.3L569.2 363L586.9 371L604.6 377.7L622.3 391.7L639.9 407L657.6 421L675.3 431L692.9 447L710.6 466L728.3 483L746 490L763.6 483L781.3 471L799 451L816.6 434L834.3 424L852 408L869.7 395.7L887.3 377.5L905 366.5L922.7 365.5L940.3 367L958 374L975.7 384.7L993.3 399L1011 418L1028.7 432L1046.4 449L1064 461L1081.7 464L1099.4 468L1117 472L1134.7 478.7L1152.4 483L1170.1 486L1187.7 488L1205.4 489.5L1223.1 485L1240.7 466L1258.4 444L1276.1 421L1293.8 406L1311.4 395L1329.1 399L1346.8 424L1364.4 458L1382.1 498L1399.8 516L1417.4 519L1435.1 510L1452.8 504L1470.5 507L1488.1 522L1505.8 536L1523.5 543L1541.1 544L1558.8 535L1576.5 529L1594.2 525L1611.8 526L1629.5 528" clip-path="url(#plot)"/>
<path stroke-linejoin="miter" d="M233.5 494.7L240.7 507.1L226.3 507.1ZM251.2 498.7L258.4 511.1L244 511.1ZM268.8 500.3L276 512.8L261.6 512.8ZM286.5 497.7L293.7 510.1L279.3 510.1ZM304.2 495.7L311.4 508.1L297 508.1ZM321.9 496.3L329.1 508.8L314.7 508.8ZM339.5 497.7L346.7 510.1L332.3 510.1ZM357.2 501.7L364.4 514.1L350 514.1ZM374.9 482.7L382.1 495.1L367.7 495.1ZM392.5 466.7L399.7 479.1L385.3 479.1ZM410.2 448.7L417.4 461.1L403 461.1ZM427.9 419.7L435.1 432.1L420.7 432.1ZM445.6 381.7L452.8 394.1L438.4 394.1ZM463.2 346.4L470.4 358.8L456 358.8ZM480.9 317.2L488.1 329.6L473.7 329.6ZM498.6 303.4L505.8 315.8L491.4 315.8ZM516.2 303.7L523.4 316.1L509 316.1ZM533.9 314.4L541.1 326.8L526.7 326.8ZM551.6 334L558.8 346.4L544.4 346.4ZM569.2 354.7L576.4 367.1L562 367.1ZM586.9 362.7L594.1 375.1L579.7 375.1ZM604.6 369.4L611.8 381.8L597.4 381.8ZM622.3 383.4L629.5 395.8L615.1 395.8ZM639.9 398.7L647.1 411.1L632.7 411.1ZM657.6 412.7L664.8 425.1L650.4 425.1ZM675.3 422.7L682.5 435.1L668.1 435.1ZM692.9 438.7L700.1 451.1L685.7 451.1ZM710.6 457.7L717.8 470.1L703.4 470.1ZM728.3 474.7L735.5 487.1L721.1 487.1ZM746 481.7L753.2 494.1L738.8 494.1ZM763.6 474.7L770.8 487.1L756.4 487.1ZM781.3 462.7L788.5 475.1L774.1 475.1ZM799 442.7L806.2 455.1L791.8 455.1ZM816.6 425.7L823.8 438.1L809.4 438.1ZM834.3 415.7L841.5 428.1L827.1 428.1ZM852 399.7L859.2 412.1L844.8 412.1ZM869.7 387.4L876.9 399.8L862.5 399.8ZM887.3 369.2L894.5 381.6L880.1 381.6ZM905 358.2L912.2 370.6L897.8 370.6ZM922.7 357.2L929.9 369.6L915.5 369.6ZM940.3 358.7L947.5 371.1L933.1 371.1ZM958 365.7L965.2 378.1L950.8 378.1ZM975.7 376.4L982.9 388.8L968.5 388.8ZM993.3 390.7L1000.5 403.1L986.1 403.1ZM1011 409.7L1018.2 422.1L1003.8 422.1ZM1028.7 423.7L1035.9 436.1L1021.5 436.1ZM1046.4 440.7L1053.6 453.1L1039.2 453.1ZM1064 452.7L1071.2 465.1L1056.8 465.1ZM1081.7 455.7L1088.9 468.1L1074.5 468.1ZM1099.4 459.7L1106.6 472.1L1092.2 472.1ZM1117 463.7L1124.2 476.1L1109.8 476.1ZM1134.7 470.4L1141.9 482.8L1127.5 482.8ZM1152.4 474.7L1159.6 487.1L1145.2 487.1ZM1170.1 477.7L1177.3 490.1L1162.9 490.1ZM1187.7 479.7L1194.9 492.1L1180.5 492.1ZM1205.4 481.2L1212.6 493.6L1198.2 493.6ZM1223.1 476.7L1230.3 489.1L1215.9 489.1ZM1240.7 457.7L1247.9 470.1L1233.5 470.1ZM1258.4 435.7L1265.6 448.1L1251.2 448.1ZM1276.1 412.7L1283.3 425.1L1268.9 425.1ZM1293.8 397.7L1301 410.1L1286.6 410.1ZM1311.4 386.7L1318.6 399.1L1304.2 399.1ZM1329.1 390.7L1336.3 403.1L1321.9 403.1ZM1346.8 415.7L1354 428.1L1339.6 428.1ZM1364.4 449.7L1371.6 462.1L1357.2 462.1ZM1382.1 489.7L1389.3 502.1L1374.9 502.1ZM1399.8 507.7L1407 520.1L1392.6 520.1ZM1417.4 510.7L1424.6 523.1L1410.2 523.1ZM1435.1 501.7L1442.3 514.1L1427.9 514.1ZM1452.8 495.7L1460 508.1L1445.6 508.1ZM1470.5 498.7L1477.7 511.1L1463.3 511.1ZM1488.1 513.7L1495.3 526.1L1480.9 526.1ZM1505.8 527.7L1513 540.1L1498.6 540.1ZM1523.5 534.7L1530.7 547.1L1516.3 547.1ZM1541.1 535.7L1548.3 548.1L1533.9 548.1ZM1558.8 526.7L1566 539.1L1551.6 539.1ZM1576.5 520.7L1583.7 533.1L1569.3 533.1ZM1594.2 516.7L1601.4 529.1L1587 529.1ZM1611.8 517.7L1619 530.1L1604.6 530.1ZM1629.5 519.7L1636.7 532.1L1622.3 532.1Z"/>
</g>
<g fill="none" stroke="#DA70D6" stroke-width="2" stroke-linejoin="round">
<path d="M233.5 474L251.2 475.5L268.8 469L286.5 465.5L304.2 464.5L321.9 468.5L339.5 478L357.2 488.5L374.9 480L392.5 468L410.2 453L427.9 432L445.6 411L463.2 392L480.9 379.5L498.6 369.5L516.2 367L533.9 366L551.6 372L569.2 382.5L586.9 389L604.6 395.5L622.3 399L639.9 400L657.6 404L675.3 417L692.9 433L710.6 450L728.3 458L746 455L763.6 449L781.3 442L799 432L816.6 428L834.3 426L852 419L869.7 412L887.3 406L905 402L922.7 402L940.3 401.6L958 401L975.7 406L993.3 415.5L1011 423L1028.7 429L1046.4 437L1064 442L1081.7 444L1099.4 448L1117 454L1134.7 459L1152.4 463L1170.1 465L1187.7 468L1205.4 472L1223.1 472L1240.7 463L1258.4 451L1276.1 440.5L1293.8 434.5L1311.4 425.5L1329.1 425.6L1346.8 446L1364.4 470L1382.1 487L1399.8 493L1417.4 496L1435.1 494L1452.8 492.4L1470.5 497L1488.1 510L1505.8 523L1523.5 531L1541.1 530L1558.8 522L1576.5 517.6L1594.2 515.6L1611.8 514.4L1629.5 516" clip-path="url(#plot)"/>
<path stroke-linejoin="miter" d="M229.5 470h8v8h-8ZM247.2 471.5h8v8h-8ZM264.8 465h8v8h-8ZM282.5 461.5h8v8h-8ZM300.2 460.5h8v8h-8ZM317.9 464.5h8v8h-8ZM335.5 474h8v8h-8ZM353.2 484.5h8v8h-8ZM370.9 476h8v8h-8ZM388.5 464h8v8h-8ZM406.2 449h8v8h-8ZM423.9 428h8v8h-8ZM441.6 407h8v8h-8ZM459.2 388h8v8h-8ZM476.9 375.5h8v8h-8ZM494.6 365.5h8v8h-8ZM512.2 363h8v8h-8ZM529.9 362h8v8h-8ZM547.6 368h8v8h-8ZM565.2 378.5h8v8h-8ZM582.9 385h8v8h-8ZM600.6 391.5h8v8h-8ZM618.3 395h8v8h-8ZM635.9 396h8v8h-8ZM653.6 400h8v8h-8ZM671.3 413h8v8h-8ZM688.9 429h8v8h-8ZM706.6 446h8v8h-8ZM724.3 454h8v8h-8ZM742 451h8v8h-8ZM759.6 445h8v8h-8ZM777.3 438h8v8h-8ZM795 428h8v8h-8ZM812.6 424h8v8h-8ZM830.3 422h8v8h-8ZM848 415h8v8h-8ZM865.7 408h8v8h-8ZM883.3 402h8v8h-8ZM901 398h8v8h-8ZM918.7 398h8v8h-8ZM936.3 397.6h8v8h-8ZM954 397h8v8h-8ZM971.7 402h8v8h-8ZM989.3 411.5h8v8h-8ZM1007 419h8v8h-8ZM1024.7 425h8v8h-8ZM1042.4 433h8v8h-8ZM1060 438h8v8h-8ZM1077.7 440h8v8h-8ZM1095.4 444h8v8h-8ZM1113 450h8v8h-8ZM1130.7 455h8v8h-8ZM1148.4 459h8v8h-8ZM1166.1 461h8v8h-8ZM1183.7 464h8v8h-8ZM1201.4 468h8v8h-8ZM1219.1 468h8v8h-8ZM1236.7 459h8v8h-8ZM1254.4 447h8v8h-8ZM1272.1 436.5h8v8h-8ZM1289.8 430.5h8v8h-8ZM1307.4 421.5h8v8h-8ZM1325.1 421.6h8v8h-8ZM1342.8 442h8v8h-8ZM1360.4 466h8v8h-8ZM1378.1 483h8v8h-8ZM1395.8 489h8v8h-8ZM1413.4 492h8v8h-8ZM1431.1 490h8v8h-8ZM1448.8 488.4h8v8h-8ZM1466.5 493h8v8h-8ZM1484.1 506h8v8h-8ZM1501.8 519h8v8h-8ZM1519.5 527h8v8h-8ZM1537.1 526h8v8h-8ZM1554.8 518h8v8h-8ZM1572.5 513.6h8v8h-8ZM1590.2 511.6h8v8h-8ZM1607.8 510.4h8v8h-8ZM1625.5 512h8v8h-8Z"/>
</g>
<text transform="translate(223,557.1) scale(1,0.930)" font-size="25"><tspan x="-30">4</tspan><tspan class="z" font-size="23" x="-13.9">0</tspan></text>
<text transform="translate(223,429.1) scale(1,0.930)" font-size="25"><tspan x="-30">8</tspan><tspan class="z" font-size="23" x="-13.9">0</tspan></text>
<text transform="translate(223,301.1) scale(1,0.930)" font-size="25"><tspan x="-45">1</tspan><tspan x="-30">2</tspan><tspan class="z" font-size="23" x="-13.9">0</tspan></text>
<text transform="translate(223,173.1) scale(1,0.930)" font-size="25"><tspan x="-45">1</tspan><tspan x="-30">6</tspan><tspan class="z" font-size="23" x="-13.9">0</tspan></text>
<text transform="translate(234,626.5) rotate(-45) scale(1,0.930)" font-size="25" y="20.4"><tspan x="-105">3</tspan><tspan x="-97" textLength="30" lengthAdjust="spacingAndGlyphs">-</tspan><tspan x="-75">2</tspan><tspan x="-60">5</tspan> <tspan class="z" font-size="23" x="-28.9">0</tspan><tspan class="z" font-size="23" x="-13.9">0</tspan></text>
<text transform="translate(304.7,626.5) rotate(-45) scale(1,0.930)" font-size="25" y="20.4"><tspan class="z" font-size="23" x="-28.9">0</tspan><tspan x="-15">4</tspan></text>
<text transform="translate(375.4,626.5) rotate(-45) scale(1,0.930)" font-size="25" y="20.4"><tspan class="z" font-size="23" x="-28.9">0</tspan><tspan x="-15">8</tspan></text>
<text transform="translate(446.1,626.5) rotate(-45) scale(1,0.930)" font-size="25" y="20.4"><tspan x="-30">1</tspan><tspan x="-15">2</tspan></text>
<text transform="translate(516.7,626.5) rotate(-45) scale(1,0.930)" font-size="25" y="20.4"><tspan x="-30">1</tspan><tspan x="-15">6</tspan></text>
<text transform="translate(587.4,626.5) rotate(-45) scale(1,0.930)" font-size="25" y="20.4"><tspan x="-30">2</tspan><tspan class="z" font-size="23" x="-13.9">0</tspan></text>
<text transform="translate(658.1,626.5) rotate(-45) scale(1,0.930)" font-size="25" y="20.4"><tspan x="-105">3</tspan><tspan x="-97" textLength="30" lengthAdjust="spacingAndGlyphs">-</tspan><tspan x="-75">2</tspan><tspan x="-60">6</tspan> <tspan class="z" font-size="23" x="-28.9">0</tspan><tspan class="z" font-size="23" x="-13.9">0</tspan></text>
<text transform="translate(728.8,626.5) rotate(-45) scale(1,0.930)" font-size="25" y="20.4"><tspan class="z" font-size="23" x="-28.9">0</tspan><tspan x="-15">4</tspan></text>
<text transform="translate(799.5,626.5) rotate(-45) scale(1,0.930)" font-size="25" y="20.4"><tspan class="z" font-size="23" x="-28.9">0</tspan><tspan x="-15">8</tspan></text>
<text transform="translate(870.2,626.5) rotate(-45) scale(1,0.930)" font-size="25" y="20.4"><tspan x="-30">1</tspan><tspan x="-15">2</tspan></text>
<text transform="translate(940.8,626.5) rotate(-45) scale(1,0.930)" font-size="25" y="20.4"><tspan x="-30">1</tspan><tspan x="-15">6</tspan></text>
<text transform="translate(1011.5,626.5) rotate(-45) scale(1,0.930)" font-size="25" y="20.4"><tspan x="-30">2</tspan><tspan class="z" font-size="23" x="-13.9">0</tspan></text>
<text transform="translate(1082.2,626.5) rotate(-45) scale(1,0.930)" font-size="25" y="20.4"><tspan x="-105">3</tspan><tspan x="-97" textLength="30" lengthAdjust="spacingAndGlyphs">-</tspan><tspan x="-75">2</tspan><tspan x="-60">7</tspan> <tspan class="z" font-size="23" x="-28.9">0</tspan><tspan class="z" font-size="23" x="-13.9">0</tspan></text>
<text transform="translate(1152.9,626.5) rotate(-45) scale(1,0.930)" font-size="25" y="20.4"><tspan class="z" font-size="23" x="-28.9">0</tspan><tspan x="-15">4</tspan></text>
<text transform="translate(1223.6,626.5) rotate(-45) scale(1,0.930)" font-size="25" y="20.4"><tspan class="z" font-size="23" x="-28.9">0</tspan><tspan x="-15">8</tspan></text>
<text transform="translate(1294.3,626.5) rotate(-45) scale(1,0.930)" font-size="25" y="20.4"><tspan x="-30">1</tspan><tspan x="-15">2</tspan></text>
<text transform="translate(1364.9,626.5) rotate(-45) scale(1,0.930)" font-size="25" y="20.4"><tspan x="-30">1</tspan><tspan x="-15">6</tspan></text>
<text transform="translate(1435.6,626.5) rotate(-45) scale(1,0.930)" font-size="25" y="20.4"><tspan x="-30">2</tspan><tspan class="z" font-size="23" x="-13.9">0</tspan></text>
<text transform="translate(1506.3,626.5) rotate(-45) scale(1,0.930)" font-size="25" y="20.4"><tspan x="-105">3</tspan><tspan x="-97" textLength="30" lengthAdjust="spacingAndGlyphs">-</tspan><tspan x="-75">2</tspan><tspan x="-60">8</tspan> <tspan class="z" font-size="23" x="-28.9">0</tspan><tspan class="z" font-size="23" x="-13.9">0</tspan></text>
<text transform="translate(1577,626.5) rotate(-45) scale(1,0.930)" font-size="25" y="20.4"><tspan class="z" font-size="23" x="-28.9">0</tspan><tspan x="-15">4</tspan></text>
<text transform="translate(930.3,743) scale(1,0.890)" font-size="27.5" text-anchor="middle">Date</text>
<text transform="translate(154.7,570) rotate(-90) scale(1,0.890)" font-size="27.5">O<tspan font-size="22" dy="14">3</tspan><tspan dy="-14"> concentrations [</tspan><tspan font-style="italic">μ</tspan>g m<tspan font-size="22" dy="-13.5">−3</tspan><tspan dy="13.5">]</tspan></text>
<g fill="none" stroke="#CD853F" stroke-width="2">
<path d="M41.2 66.5h62.6"/>
<path stroke-linejoin="miter" d="M72.5 58.2L79.7 70.7L65.3 70.7Z"/>
</g>
<text class="lg" x="110.4 126.3" y="71.8">南宁</text>
<g fill="none" stroke="#4682B4" stroke-width="2">
<path d="M153.8 66.5h62.6"/>
</g>
<text class="lg" x="222.9 238.9" y="71.8">北海</text>
<g fill="none" stroke="#87CEFA" stroke-width="2">
<path d="M266.3 66.5h62.6"/>
</g>
<text class="lg" x="335.4 351.4" y="71.8">崇左</text>
<g fill="none" stroke="#87CEFA" stroke-width="2">
<path d="M378.8 66.5h62.6"/>
<path stroke-linejoin="miter" d="M403.8 66.5h12.8M410.1 60.1v12.8"/>
</g>
<text class="lg" x="448 464.6" y="71.8">来宾</text>
<g fill="none" stroke="#6A5ACD" stroke-width="2">
<path d="M491.4 66.5h62.6"/>
<path stroke-linejoin="miter" d="M516.3 66.5h12.8M522.7 60.1v12.8"/>
</g>
<text class="lg" x="560.5 576.5" y="71.8">柳州</text>
<g fill="none" stroke="#FFD700" stroke-width="2">
<path d="M604 66.5h62.6"/>
</g>
<text class="lg" x="673.1 689.1" y="71.8">桂林</text>
<g fill="none" stroke="#FF8C00" stroke-width="2">
<path d="M716.5 66.5h62.6"/>
</g>
<text class="lg" x="785.6 801.6" y="71.8">梧州</text>
<g fill="none" stroke="#4682B4" stroke-width="2">
<path d="M829.1 66.5h62.6"/>
<path stroke-linejoin="miter" d="M854 66.5h12.8M860.4 60.1v12.8M855.9 62l9 9M855.9 71l9 -9"/>
</g>
<text class="lg" x="898.2 914.2" y="71.8">河池</text>
<g fill="none" stroke="#A2E31A" stroke-width="2">
<path d="M941.6 66.5h62.6"/>
</g>
<text class="lg" x="1010.8 1026.8" y="71.8">玉林</text>
<g fill="none" stroke="#DA70D6" stroke-width="2">
<path d="M1054.1 66.5h62.6"/>
</g>
<text class="lg" x="1123.3 1139.3" y="71.8">百色</text>
<g fill="none" stroke="#A2E31A" stroke-width="2">
<path d="M1166.7 66.5h62.6"/>
<path stroke-linejoin="miter" d="M1198 58.7L1203.7 66.5L1198 74.3L1192.3 66.5Z"/>
</g>
<text class="lg" x="1236.5 1251.9" y="71.8">贵港</text>
<g fill="none" stroke="#0CA69A" stroke-width="2">
<path d="M1279.2 66.5h62.6"/>
</g>
<text class="lg" x="1349 1364.4" y="71.8">贺州</text>
<g fill="none" stroke="#FFD700" stroke-width="2">
<path d="M1391.8 66.5h62.6"/>
<path stroke-linejoin="miter" d="M1423.1 58.2L1430.3 70.7L1415.9 70.7Z"/>
</g>
<text class="lg" x="1461.6 1477" y="71.8">钦州</text>
<g fill="none" stroke="#DA70D6" stroke-width="2">
<path d="M1504.3 66.5h62.6"/>
<path stroke-linejoin="miter" d="M1531.6 62.5h8v8h-8Z"/>
</g>
<text class="lg" x="1573.5 1589.5 1605.5" y="71.8">防城港</text>
</svg></body></html>
